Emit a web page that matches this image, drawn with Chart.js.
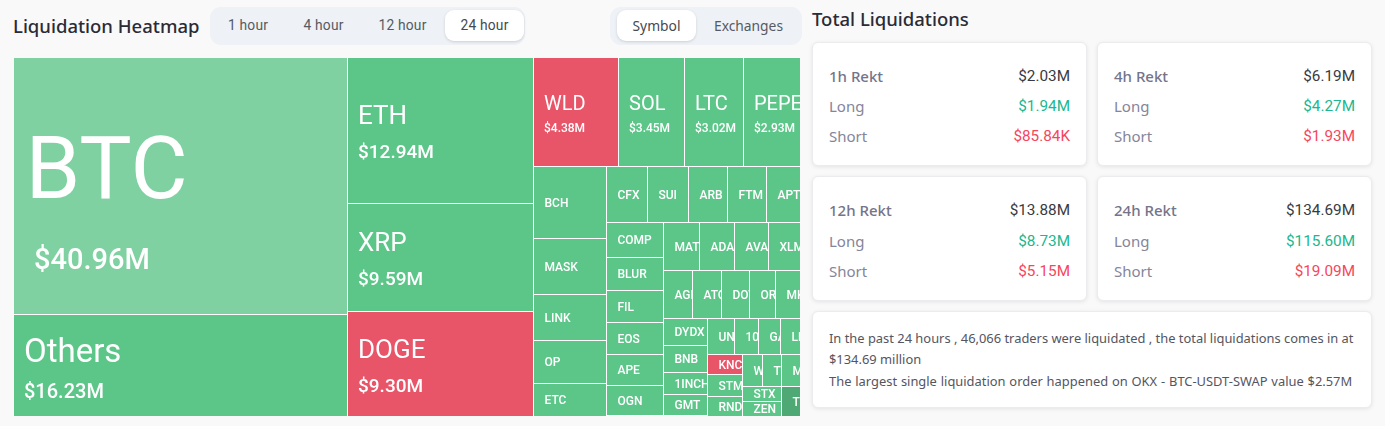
<!DOCTYPE html>
<html>
<head>
<meta charset="utf-8">
<title>Liquidation Heatmap</title>
<script src="https://cdn.jsdelivr.net/npm/chart.js@4"></script>
<style>
  html, body { margin: 0; padding: 0; background: #f9f9fa; }
  body { position: relative; width: 1385px; height: 426px; overflow: hidden; font-family: "Noto Sans", sans-serif; color: #2b2b36; }
  .abs { position: absolute; white-space: nowrap; }
  .title { font-size: 18.5px; line-height: 24px; font-weight: 500; }
  .pills { top: 7px; height: 38px; background: #eef1f5; border-radius: 11px; }
  .pill { top: 10px; height: 31px; line-height: 31px; font-size: 13.8px; color: #555a63; text-align: center; }
  .pill.on { background: #fff; border-radius: 9px; box-shadow: 0 1px 3px rgba(0,0,0,.14); color: #444952; }
  .pill.din { font-family: Roboto, sans-serif; letter-spacing: .2px; }
  #map { position: absolute; left: 14px; top: 58px; }
  .card { background: #fff; border: 1px solid #ececee; border-radius: 6px; box-shadow: 0 1px 4px rgba(0,0,0,.09); box-sizing: border-box; }
  .row { font-size: 15px; line-height: 20px; }
  .row.l { left: 16px; color: #85859a; }
  .row.l.head { font-weight: 500; color: #74748a; }
  .row.v { right: 16px; font-size: 15.3px; font-family: Roboto, sans-serif; color: #3a3a42; }
  .row.v.long { color: #20b78f; }
  .row.v.short { color: #f6465d; }
  #info { left: 812px; top: 311px; width: 560px; height: 97px; }
  #info div { left: 16px; font-size: 12.9px; line-height: 21px; color: #55555f; }
</style>
</head>
<body>
<div class="abs title" style="left:13px;top:14px" id="heatTitle">Liquidation Heatmap</div>
<div class="abs title" style="left:812px;top:7px">Total Liquidations</div>

<div class="abs pills" style="left:210px;width:315px"></div>
<div class="abs pills" style="left:610px;width:192px"></div>
<div id="toolbar"></div>

<canvas id="map" width="786" height="358"></canvas>

<div id="cards"></div>
<div class="abs card" id="info">
  <div class="abs" style="top:16px">In the past 24 hours , 46,066 traders were liquidated , the total liquidations comes in at</div>
  <div class="abs" style="top:37px">$134.69 million</div>
  <div class="abs" style="top:59px;word-spacing:.5px">The largest single liquidation order happened on OKX - BTC-USDT-SWAP value $2.57M</div>
</div>

<script>
// values, $ millions
const coins = ['BTC','Others','ETH','XRP','DOGE','WLD','SOL','LTC','PEPE',
  'BCH','MASK','LINK','OP','ETC',
  'CFX','SUI','ARB','FTM','APT',
  'COMP','BLUR','FIL','EOS','APE','OGN',
  'MATIC','ADA','AVAX','XLM',
  'AGLD','ATOM','DOT','ORDI','MKR',
  'DYDX','BNB','1INCH','GMT',
  'UNI','1000SATS','GAS','LDO',
  'KNC','STMX','RNDR',
  'WAVES','TIA','MEME',
  'STX','ZEN','TON'];
const liquidations = [40.96,16.23,12.94,9.59,9.30,4.38,3.45,3.02,2.93,
  2.53,1.94,1.61,1.50,1.14,
  1.10,1.11,1.05,1.05,0.91,
  0.95,0.90,0.87,0.87,0.84,0.83,
  0.82,0.80,0.77,0.72,
  0.67,0.67,0.64,0.61,0.56,
  0.57,0.57,0.46,0.46,
  0.46,0.43,0.38,0.33,
  0.34,0.35,0.33,
  0.31,0.29,0.28,
  0.28,0.28,0.27];
const shortHeavy = ['DOGE','WLD','KNC'];

// how the map nests: each level splits the other way from its parent
const nesting = [
  ['BTC','Others'],
  ['ETH','XRP','DOGE'],
  [['WLD','SOL','LTC','PEPE'],
   [['BCH','MASK','LINK','OP','ETC'],
    [['CFX','SUI','ARB','FTM','APT'],
     [['COMP','BLUR','FIL','EOS','APE','OGN'],
      [['MATIC','ADA','AVAX','XLM'],
       ['AGLD','ATOM','DOT','ORDI','MKR'],
       [['DYDX','BNB','1INCH','GMT'],
        [['UNI','1000SATS','GAS','LDO'],
         [['KNC','STMX','RNDR'],
          [['WAVES','TIA','MEME'],
           [['STX','ZEN'],'TON']]]]]]]]]]
];

const rektLabels = ['1h Rekt','4h Rekt','12h Rekt','24h Rekt'];
const rektTotals = ['$2.03M','$6.19M','$13.88M','$134.69M'];
const rektLongs = ['$1.94M','$4.27M','$8.73M','$115.60M'];
const rektShorts = ['$85.84K','$1.93M','$5.15M','$19.09M'];

const hourTabs = ['1 hour','4 hour','12 hour','24 hour'];
const viewTabs = ['Symbol','Exchanges'];

function sumOf(node){
  if (typeof node === 'string') return liquidations[coins.indexOf(node)];
  return node.reduce((a,n)=>a+sumOf(n),0);
}

// slice and dice: x runs over the total, y over 0..1
function sliceCells(node,x0,x1,y0,y1,alongX,out){
  if (typeof node === 'string'){
    out.push({x:x0,x1:x1,y:y0,y1:y1,name:node,value:sumOf(node)});
    return out;
  }
  const total=sumOf(node);
  let at=alongX?x0:y0;
  const span=alongX?x1-x0:y1-y0;
  node.forEach(child=>{
    const next=at+span*sumOf(child)/total;
    if (alongX) sliceCells(child,at,next,y0,y1,false,out);
    else sliceCells(child,x0,x1,at,next,true,out);
    at=next;
  });
  return out;
}

const total=sumOf(nesting);
const cells=sliceCells(nesting,0,total,0,1,true,[]);

// no treemap in core Chart.js, so a small controller that lays BarElements on the two linear scales
class TreemapController extends Chart.DatasetController {
  update(mode){
    const meta=this._cachedMeta;
    this.updateElements(meta.data,0,meta.data.length,mode);
  }
  updateElements(rects,start,count,mode){
    const {xScale,yScale}=this._cachedMeta;
    const eps=1e-6;
    for (let i=start;i<start+count;i++){
      const c=this.getParsed(i);
      // 1px of white canvas sits on each inner edge, none on the outer edge
      const left=Math.floor(xScale.getPixelForValue(c.x))+(c.x>xScale.min+eps?1:0);
      const right=Math.floor(xScale.getPixelForValue(c.x1));
      const top=Math.floor(yScale.getPixelForValue(c.y))+(c.y>yScale.min+eps?1:0);
      const base=Math.floor(yScale.getPixelForValue(c.y1));
      const width=right-left;
      this.updateElement(rects[i],i,{
        x:left+width/2,y:top,base:base,width:width,height:base-top,
        horizontal:false,inflateAmount:0,borderSkipped:{},
        options:this.resolveDataElementOptions(i,mode)
      },mode);
    }
  }
  draw(){
    const ctx=this.chart.ctx;
    this.getMeta().data.forEach(el=>el.draw(ctx));
  }
}
TreemapController.id='treemap';
TreemapController.defaults={dataElementType:'bar'};
Chart.register(TreemapController);

function cellColor(name){
  if (name==='BTC') return '#7fd1a2';
  if (name==='TON') return '#4fa975';
  return shortHeavy.includes(name)?'#e85468':'#5cc689';
}

function labelStyle(value){
  if (value>=30) return {name:88,val:29,nameX:11.5,valX:20,nameY:-10,valY:76,valWeight:500};
  if (value>=15) return {name:33,val:20,nameX:10,valX:10,nameY:-12,valY:27,valWeight:500};
  if (value>=9) return {name:26,val:19,nameX:10,valX:10,nameY:-13,valY:23,valWeight:500};
  if (value>=2.9) return {name:20,val:12,nameX:10,valX:10,nameY:-7,valY:17,valWeight:500};
  return {name:12,nameX:10.5,nameY:1,nameWeight:500};
}

const cellLabels={
  id:'cellLabels',
  afterDatasetsDraw(chart){
    const ctx=chart.ctx;
    chart.getDatasetMeta(0).data.forEach((el,i)=>{
      const c=cells[i];
      const s=labelStyle(c.value);
      const left=el.x-el.width/2;
      const mid=(el.y+el.base)/2;
      ctx.save();
      ctx.beginPath();
      ctx.rect(left,el.y,el.width,el.base-el.y);
      ctx.clip();
      ctx.fillStyle='#fff';
      ctx.textBaseline='middle';
      ctx.font=(s.nameWeight||400)+' '+s.name+'px Roboto, sans-serif';
      ctx.fillText(c.name,left+s.nameX,mid+s.nameY);
      if (s.val){
        ctx.font=s.valWeight+' '+s.val+'px Roboto, sans-serif';
        ctx.fillText('$'+c.value.toFixed(2)+'M',left+s.valX,mid+s.valY);
      }
      ctx.restore();
    });
  }
};

new Chart(document.getElementById('map').getContext('2d'),{
  type:'treemap',
  data:{datasets:[{
    label:'Liquidations',
    data:cells,
    parsing:false,
    backgroundColor:ctx=>cellColor(ctx.raw.name),
    borderWidth:0,
    borderSkipped:false
  }]},
  options:{
    responsive:false,
    animation:false,
    events:[],
    layout:{padding:0},
    plugins:{legend:{display:false},tooltip:{enabled:false}},
    scales:{
      x:{type:'linear',display:false,min:0,max:total},
      y:{type:'linear',display:false,min:0,max:1,reverse:true}
    }
  },
  plugins:[{
    id:'backgroundFill',
    beforeDraw(chart){
      chart.ctx.save();
      chart.ctx.fillStyle='#fff';
      chart.ctx.fillRect(0,0,chart.width,chart.height);
      chart.ctx.restore();
    }
  },cellLabels]
});

// toolbar and the four cards are plain DOM
const toolbar=document.getElementById('toolbar');
function addTab(text,left,width,cls){
  const d=document.createElement('div');
  d.className='abs pill '+cls;
  d.style.left=left+'px';
  d.style.width=width+'px';
  d.textContent=text;
  toolbar.appendChild(d);
}
[[211,74],[286,75],[361,83],[445,79]].forEach((p,i)=>addTab(hourTabs[i],p[0],p[1],'din'+(i===3?' on':'')));
[[617,79],[698,101]].forEach((p,i)=>addTab(viewTabs[i],p[0],p[1],i===0?'on':''));

const cardsEl=document.getElementById('cards');
rektLabels.forEach((label,i)=>{
  const card=document.createElement('div');
  card.className='abs card';
  card.style.left=(i%2?1097:812)+'px';
  card.style.top=(i<2?42:176)+'px';
  card.style.width='275px';
  card.style.height=(i<2?124:125)+'px';
  const rows=[[label,rektTotals[i],'head',''],['Long',rektLongs[i],'','long'],['Short',rektShorts[i],'','short']];
  rows.forEach((r,j)=>{
    const top=23+j*30+(i>=2&&j>0?1:0);
    card.innerHTML+='<div class="abs row l '+r[2]+'" style="top:'+top+'px">'+r[0]+'</div>'
      +'<div class="abs row v '+r[3]+'" style="top:'+top+'px">'+r[1]+'</div>';
  });
  cardsEl.appendChild(card);
});
</script>
</body>
</html>
